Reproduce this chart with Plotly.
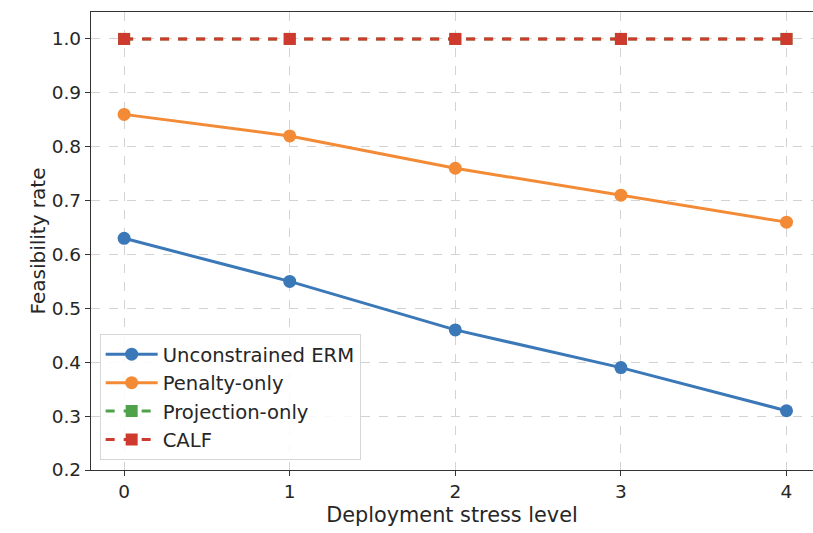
import plotly.graph_objects as go

stress_levels = [0, 1, 2, 3, 4]
erm = [0.63, 0.55, 0.46, 0.39, 0.31]
penalty = [0.86, 0.82, 0.76, 0.71, 0.66]
projection = [1.0, 1.0, 1.0, 1.0, 1.0]
calf = [1.0, 1.0, 1.0, 1.0, 1.0]
y_ticks = [0.2, 0.3, 0.4, 0.5, 0.6, 0.7, 0.8, 0.9, 1.0]
y_tick_labels = ["0.2", "0.3", "0.4", "0.5", "0.6", "0.7", "0.8", "0.9", "1.0"]

BLUE = "#3b78b8"
ORANGE = "#f38a35"
GREEN = "#4ea24a"
RED = "#cf3a2f"

fig = go.Figure()
fig.add_trace(go.Scatter(x=stress_levels, y=erm, name="Unconstrained ERM", mode="lines+markers",
                         line=dict(color=BLUE, width=3), marker=dict(symbol="circle", size=13, color=BLUE)))
fig.add_trace(go.Scatter(x=stress_levels, y=penalty, name="Penalty-only", mode="lines+markers",
                         line=dict(color=ORANGE, width=3), marker=dict(symbol="circle", size=13, color=ORANGE)))
fig.add_trace(go.Scatter(x=stress_levels, y=projection, name="Projection-only", mode="lines+markers",
                         line=dict(color=GREEN, width=3, dash="dash"), marker=dict(symbol="square", size=12, color=GREEN)))
fig.add_trace(go.Scatter(x=stress_levels, y=calf, name="CALF", mode="lines+markers",
                         line=dict(color=RED, width=3, dash="dash"), marker=dict(symbol="square", size=12, color=RED)))

font = "DejaVu Sans"
fig.update_layout(
    width=813, height=533,
    margin=dict(l=91, r=0, t=12, b=63),
    paper_bgcolor="white", plot_bgcolor="white",
    font=dict(family=font, size=18, color="#262626"),
    showlegend=True,
    legend=dict(x=0.012, y=0.022, xanchor="left", yanchor="bottom",
                bgcolor="rgba(255,255,255,0.85)", bordercolor="#d6d6d6", borderwidth=1,
                font=dict(family=font, size=19.6, color="#262626"),
                itemwidth=52, tracegroupgap=0),
    xaxis=dict(range=[-0.2, 4.16], tickmode="array", tickvals=stress_levels,
               ticktext=[str(v) for v in stress_levels],
               showgrid=True, gridcolor="#d3d3d3", griddash="dash", gridwidth=1,
               showline=True, linecolor="#333333", linewidth=1.3, mirror=True,
               ticks="outside", ticklen=5, tickcolor="#333333",
               zeroline=False,
               title=dict(text="Deployment stress level", font=dict(family=font, size=20.8), standoff=6),
               tickfont=dict(family=font, size=18.5)),
    yaxis=dict(range=[0.2, 1.05], tickmode="array", tickvals=y_ticks, ticktext=y_tick_labels,
               showgrid=True, gridcolor="#d3d3d3", griddash="dash", gridwidth=1,
               showline=True, linecolor="#333333", linewidth=1.3, mirror=False,
               ticks="outside", ticklen=5, tickcolor="#333333",
               zeroline=False,
               title=dict(text="Feasibility rate", font=dict(family=font, size=20), standoff=0),
               tickfont=dict(family=font, size=18.5)),
)

fig.write_html("out.html", config={"displayModeBar": False},
               post_script="document.body.style.margin='0';")
